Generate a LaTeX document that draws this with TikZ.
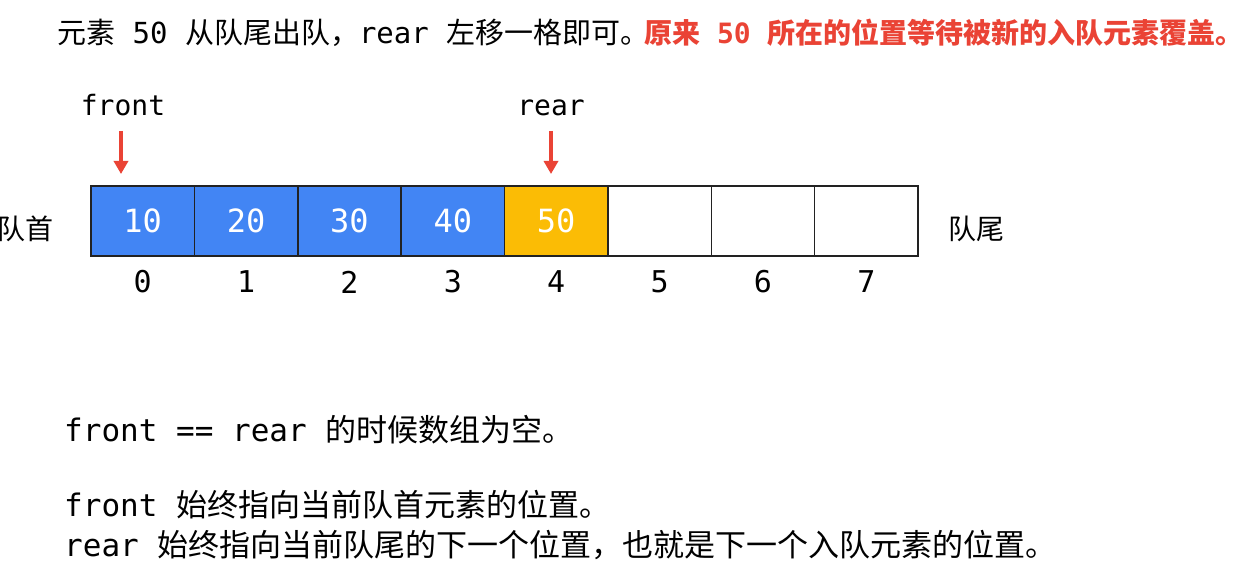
\documentclass[tikz,border=0pt]{standalone}
\usepackage{fontspec}
\setmainfont{DejaVu Sans Mono}
\newfontfamily\cjk{Noto Sans CJK SC}
\newcommand\C[1]{{\cjk #1}}
\usetikzlibrary{arrows.meta}
\definecolor{qblue}{HTML}{4285F4}
\definecolor{qyellow}{HTML}{FBBC05}
\definecolor{qred}{HTML}{EA4335}
\definecolor{qline}{HTML}{222222}
\tikzset{
  cellbox/.style={draw=qline, line width=1.5pt, minimum width=103.375pt, minimum height=70pt, inner sep=0pt, text=white, font=\fontsize{32}{38}\selectfont},
  idxlabel/.style={inner sep=0pt, font=\fontsize{30}{36}\selectfont},
  ptrlabel/.style={inner sep=0pt, anchor=base, font=\fontsize{28}{34}\selectfont},
  sidelabel/.style={inner sep=0pt, font=\fontsize{28}{34}\selectfont\cjk},
  ptrarrow/.style={draw=qred, line width=3.5pt, -{Triangle[width=14pt,length=13pt]}},
  textline/.style={anchor=base west, inner sep=0pt},
}
\begin{document}
\begin{tikzpicture}[x=1pt,y=-1pt]
\useasboundingbox (0,0) rectangle (1252,580);
\fill[white] (0,0) rectangle (1252,580);
% title
\node[textline, font=\fontsize{29}{34}\selectfont] (t1) at (57,44) {\C{元素} 50 \C{从队尾出队，}rear \C{左移一格即可。}};
\node[textline, font=\fontsize{28}{34}\selectfont\bfseries, text=qred] (t2) at (644,44) {\C{原来} 50 \C{所在的位置等待被新的入队元素覆盖。}};
% cells
\foreach \i/\v/\c in {0/10/qblue,1/20/qblue,2/30/qblue,3/40/qblue,4/50/qyellow,5//white,6//white,7//white}{
  \node[cellbox, fill=\c] (cell\i) at (91+103.375*\i+51.6875,221) {\v};
  \node[idxlabel] (idx\i) at (91+103.375*\i+51.6875,282) {\i};
}
\node[sidelabel] (head) at (26,229) {队首};
\node[sidelabel] (tail) at (976,229) {队尾};
% pointers
\node[ptrlabel] (front) at (123,116) {front};
\node[ptrlabel] (rear) at (551,116) {rear};
\coordinate (fs) at (121,131);
\coordinate (ft) at (121,174);
\coordinate (rs) at (551,131);
\coordinate (rt) at (551,174);
\draw[ptrarrow] (fs) -- (ft);
\draw[ptrarrow] (rs) -- (rt);
% bottom text
\node[textline, font=\fontsize{31}{36}\selectfont] (b1) at (64,441) {front == rear \C{的时候数组为空。}};
\node[textline, font=\fontsize{31}{36}\selectfont] (b2) at (64,516) {front \C{始终指向当前队首元素的位置。}};
\node[textline, font=\fontsize{31}{36}\selectfont] (b3) at (64,556) {rear \C{始终指向当前队尾的下一个位置，也就是下一个入队元素的位置。}};
\end{tikzpicture}
\end{document}
